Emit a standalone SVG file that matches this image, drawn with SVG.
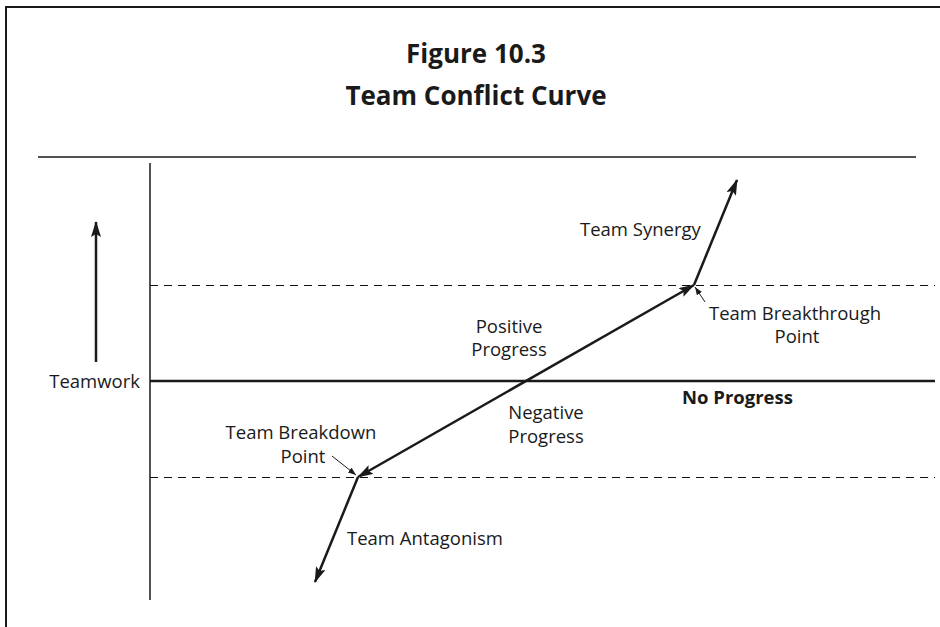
<svg xmlns="http://www.w3.org/2000/svg" width="940" height="627" viewBox="0 0 940 627">
<style>
text{font-family:"Open Sans","Liberation Sans",sans-serif;fill:#1a1a1a}
.t{font-size:26px;font-weight:bold;text-anchor:middle}
.l{font-size:18.5px}
.c{text-anchor:middle}
.b{font-weight:bold;font-size:18.5px}
.thick{stroke:#1a1a1a;stroke-width:2.5;fill:none}
.thin{stroke:#1a1a1a;stroke-width:1.5;fill:none}
.ptr{stroke:#1a1a1a;stroke-width:1;fill:none}
.dash{stroke:#111;stroke-width:1.2;stroke-dasharray:8 6;fill:none}
</style>
<defs>
<marker id="ah" viewBox="0 0 16 10" refX="15" refY="5" markerWidth="16" markerHeight="10" markerUnits="userSpaceOnUse" orient="auto-start-reverse">
<path d="M0,0 L16,5 L0,10 L3,5 Z" fill="#1a1a1a"/>
</marker>
<marker id="sm" viewBox="0 0 8 6" refX="8" refY="3" markerWidth="8" markerHeight="6" markerUnits="userSpaceOnUse" orient="auto">
<path d="M0,0 L8,3 L0,6 Z" fill="#1a1a1a"/>
</marker>
</defs>
<rect width="940" height="627" fill="#fff"/>
<path d="M6,640 V7 H945" stroke="#1a1a1a" stroke-width="2" fill="none"/>
<g id="title">
<text class="t" x="476" y="63">Figure 10.3</text>
<text class="t" x="476" y="105">Team Conflict Curve</text>
</g>
<line x1="38" y1="157" x2="916" y2="157" stroke="#1a1a1a" stroke-width="1.5"/>
<g id="axes">
<line x1="150" y1="163" x2="150" y2="600" class="thin"/>
<line x1="150" y1="381" x2="935" y2="381" class="thick"/>
<line x1="150" y1="285.5" x2="935" y2="285.5" class="dash"/>
<line x1="150" y1="477.5" x2="935" y2="477.5" class="dash"/>
</g>
<g id="connectors">
<line x1="96" y1="362" x2="96" y2="222" class="thick" marker-end="url(#ah)"/>
<line x1="358" y1="477" x2="694" y2="285" class="thick" marker-start="url(#ah)" marker-end="url(#ah)"/>
<line x1="694" y1="285" x2="737" y2="180" class="thick" marker-end="url(#ah)"/>
<line x1="358" y1="477" x2="315" y2="582" class="thick" marker-end="url(#ah)"/>
<line x1="705" y1="302" x2="695" y2="287" class="ptr" marker-end="url(#sm)"/>
<line x1="332" y1="456" x2="356" y2="475" class="ptr" marker-end="url(#sm)"/>
</g>
<g id="teamwork"><text class="l" x="140" y="388" text-anchor="end">Teamwork</text></g>
<g id="no-progress"><text class="b" x="682" y="404">No Progress</text></g>
<g id="synergy"><text class="l" x="580" y="236">Team Synergy</text></g>
<g id="breakthrough">
<text class="l c" x="795" y="320">Team Breakthrough</text>
<text class="l c" x="797" y="343">Point</text>
</g>
<g id="positive">
<text class="l c" x="509" y="333">Positive</text>
<text class="l c" x="509" y="356">Progress</text>
</g>
<g id="negative">
<text class="l c" x="546" y="419">Negative</text>
<text class="l c" x="546" y="443">Progress</text>
</g>
<g id="breakdown">
<text class="l c" x="301" y="439">Team Breakdown</text>
<text class="l c" x="303" y="463">Point</text>
</g>
<g id="antagonism"><text class="l" x="347" y="545">Team Antagonism</text></g>
</svg>
